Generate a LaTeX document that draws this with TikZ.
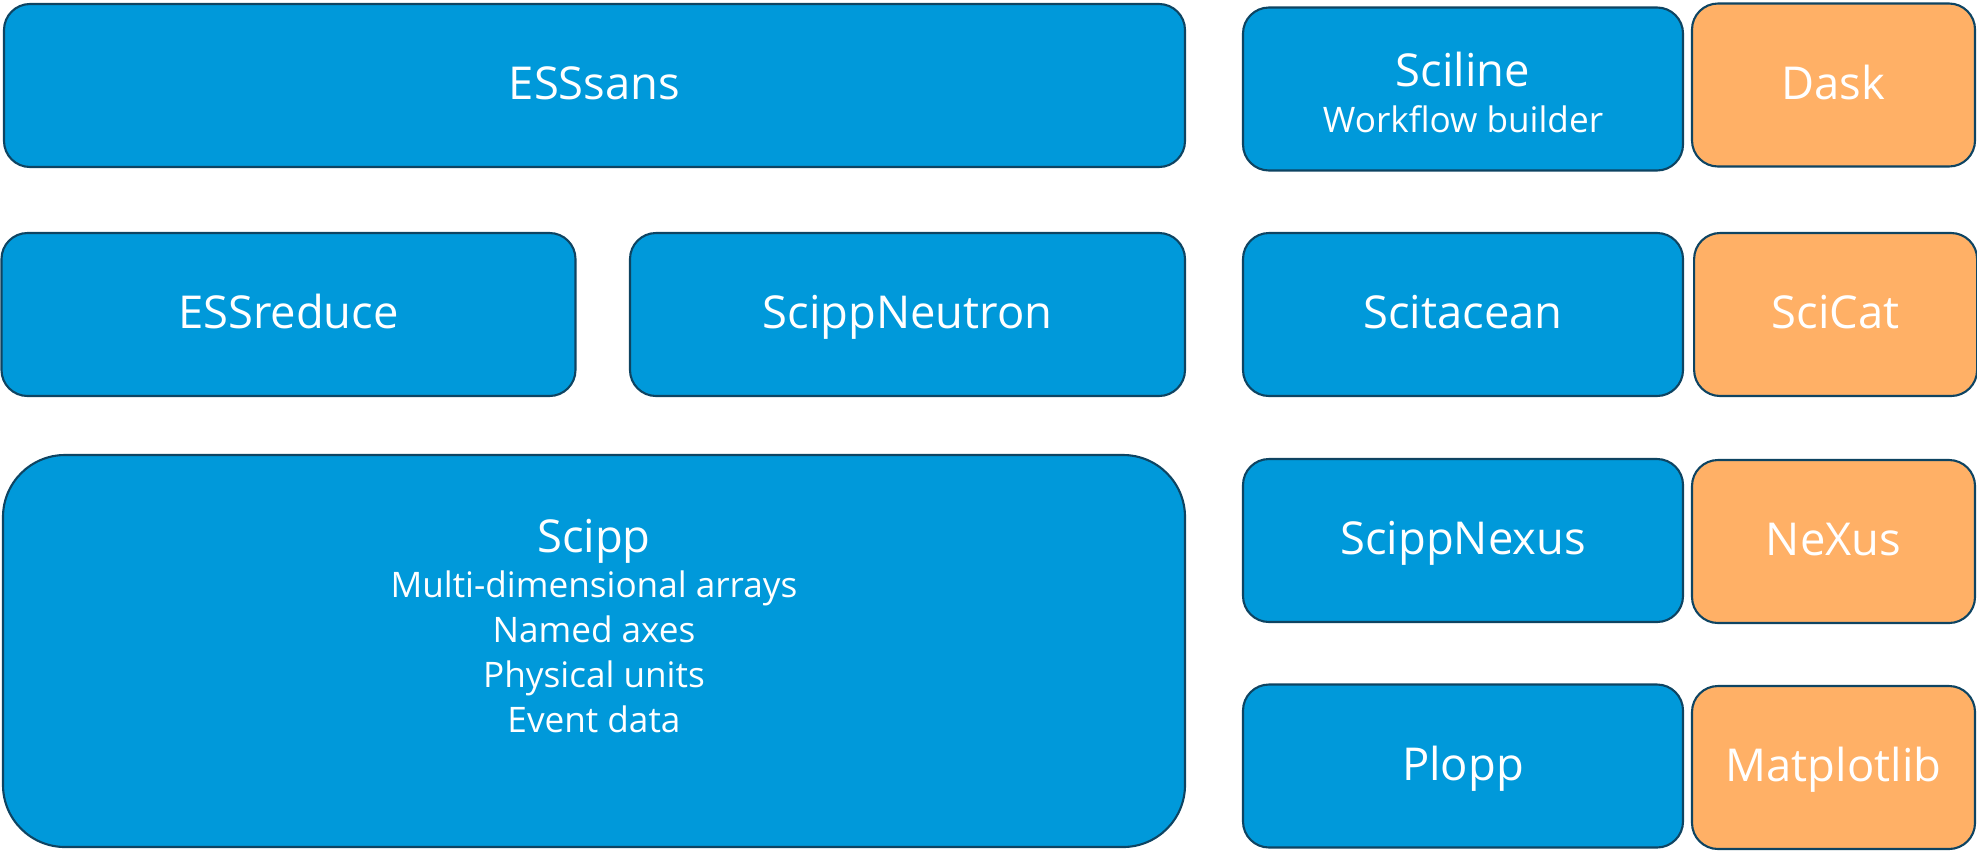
\documentclass[tikz,border=0pt]{standalone}
\usepackage{fontspec}
\setmainfont{Open Sans}
\usetikzlibrary{positioning}
\definecolor{pkgblue}{RGB}{0,153,218}
\definecolor{deporange}{RGB}{255,176,102}
\definecolor{pkgedge}{RGB}{14,68,98}
\def\big{\fontsize{12.9}{15.5}\selectfont}
\def\small{\fontsize{10}{12.8}\selectfont}
\tikzstyle{box} = [
    draw=pkgedge,
    fill=pkgblue,
    text=white,
    line width=0.6pt,
    rounded corners=0.26cm,
    align=center,
    inner sep=0pt,
    font=\big,
    minimum height=1.63cm]
\tikzstyle{pkg} = [
    box,
    text height=1.02em,
    text depth=0.22em]
\tikzstyle{dep} = [
    pkg,
    fill=deporange,
    minimum width=2.83cm]
\tikzstyle{tool} = [
    pkg,
    minimum width=4.40cm]

\begin{document}
\begin{tikzpicture}
        \useasboundingbox (0,0) rectangle (19.77,-8.51);

        % left column
        \node[pkg, minimum width=11.81cm] (esssans) at (5.945,-0.855) {ESSsans};
        \node[pkg, minimum width=5.74cm] (essreduce) at (2.885,-3.145) {ESSreduce};
        \node[pkg, minimum width=5.55cm] (neutron) at (9.075,-3.145) {ScippNeutron};
        \node[box, minimum width=11.82cm, minimum height=3.92cm, rounded corners=0.62cm]
            (scipp) at (5.94,-6.51) {};
        \node[text=white, align=center, inner sep=0pt, font=\small] (scipptxt)
            at ([yshift=0.25cm]scipp.center)
            {{\big Scipp}\\
             Multi-dimensional arrays\\
             Named axes\\
             Physical units\\
             Event data};

        % right column
        \node[box, minimum width=4.40cm] (sciline) at (14.63,-0.89)
            {\rule{0pt}{0.92em}Sciline\\[-0.08cm]{\small Workflow builder}};
        \node[tool] (scitacean) at (14.63,-3.145) {Scitacean};
        \node[tool] (nexus) at (14.63,-5.405) {ScippNexus};
        \node[tool] (plopp) at (14.63,-7.66) {Plopp};

        \node[dep] (dask) at (18.335,-0.85) {Dask};
        \node[dep] (scicat) [right = 0.09cm of scitacean] {SciCat};
        \node[dep] (nexusfmt) at (18.335,-5.415) {NeXus};
        \node[dep] (mpl) at (18.335,-7.675) {Matplotlib};
    \end{tikzpicture}
\end{document}
